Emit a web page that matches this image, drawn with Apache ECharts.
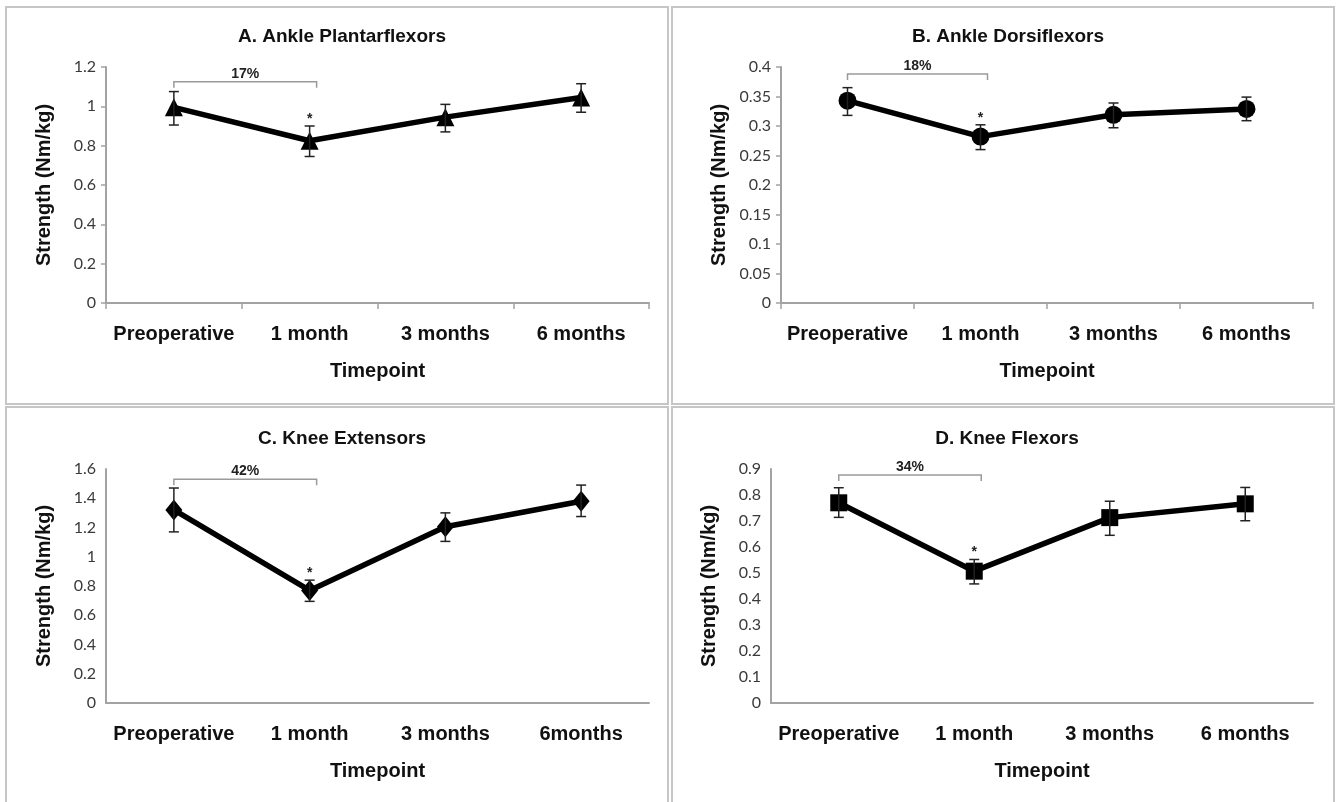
<!DOCTYPE html>
<html>
<head>
<meta charset="utf-8">
<script src="https://cdn.jsdelivr.net/npm/echarts@6/dist/echarts.min.js"></script>
<style>
  html, body { margin: 0; padding: 0; background: #fff; }
  #wrap { position: relative; width: 1340px; height: 802px; overflow: hidden; }
  .panel { position: absolute; border: 2px solid #c6c6c6; box-sizing: border-box; }
  #chart { position: absolute; left: 0; top: 0; width: 1340px; height: 802px; }
</style>
</head>
<body>
<div id="wrap">
  <div class="panel" style="left:5px;top:6px;width:664px;height:399px"></div>
  <div class="panel" style="left:671px;top:6px;width:664px;height:399px"></div>
  <div class="panel" style="left:5px;top:406px;width:664px;height:400px"></div>
  <div class="panel" style="left:671px;top:406px;width:664px;height:400px"></div>
  <div id="chart"></div>
</div>
<script>
// 横轴分组
const timepoints = ['Preoperative', '1 month', '3 months', '6 months'];
const timepointsKnee = ['Preoperative', '1 month', '3 months', '6months'];

// A. 踝跖屈肌
const plantarMean = [0.995, 0.825, 0.945, 1.045];
const plantarLow = [0.905, 0.745, 0.87, 0.97];
const plantarHigh = [1.075, 0.9, 1.01, 1.115];

// B. 踝背屈肌
const dorsiMean = [0.343, 0.282, 0.319, 0.329];
const dorsiLow = [0.318, 0.26, 0.297, 0.309];
const dorsiHigh = [0.365, 0.302, 0.339, 0.349];

// C. 膝伸肌
const extMean = [1.32, 0.77, 1.205, 1.38];
const extLow = [1.17, 0.695, 1.105, 1.275];
const extHigh = [1.47, 0.84, 1.3, 1.49];

// D. 膝屈肌
const flexMean = [0.77, 0.507, 0.713, 0.766];
const flexLow = [0.714, 0.458, 0.645, 0.701];
const flexHigh = [0.828, 0.552, 0.776, 0.829];

const sigMarks = ['', '*', '', ''];
const bracketLevels = [1.125, 0.388, 1.53, 0.877];
const bracketLabels = ['17%', '18%', '42%', '34%'];
const titles = ['A. Ankle Plantarflexors', 'B. Ankle Dorsiflexors', 'C. Knee Extensors', 'D. Knee Flexors'];

const myechart = echarts.init(document.getElementById('chart'));

const panels = [
  { cats: timepoints, mean: plantarMean, low: plantarLow, high: plantarHigh, max: 1.2, step: 0.2,
    symbol: 'triangle', size: 18, grid: { left: 106, top: 67, width: 543, height: 236 }, titleX: 337, titleY: 22, ticks: true },
  { cats: timepoints, mean: dorsiMean, low: dorsiLow, high: dorsiHigh, max: 0.4, step: 0.05,
    symbol: 'circle', size: 18, grid: { left: 781, top: 67, width: 532, height: 236 }, titleX: 1003, titleY: 22, ticks: true },
  { cats: timepointsKnee, mean: extMean, low: extLow, high: extHigh, max: 1.6, step: 0.2,
    symbol: 'diamond', size: [17, 21], grid: { left: 106, top: 469, width: 543, height: 234 }, titleX: 337, titleY: 424, ticks: false },
  { cats: timepoints, mean: flexMean, low: flexLow, high: flexHigh, max: 0.9, step: 0.1,
    symbol: 'rect', size: 17, grid: { left: 771, top: 469, width: 542, height: 234 }, titleX: 1002, titleY: 424, ticks: false }
];

const axisColor = '#a3a3a3';
const boldFont = '"Liberation Sans", Arial, sans-serif';

const option = {
  animation: false,
  title: [],
  grid: [],
  xAxis: [],
  yAxis: [],
  series: []
};

panels.forEach(function (p, i) {
  option.title.push({
    text: titles[i],
    left: p.titleX,
    top: p.titleY,
    textAlign: 'center',
    textStyle: { fontFamily: boldFont, fontWeight: 'bold', fontSize: 19, color: '#111' }
  });
  option.grid.push(Object.assign({ containLabel: false }, p.grid));
  option.xAxis.push({
    type: 'category',
    gridIndex: i,
    data: p.cats,
    boundaryGap: true,
    name: 'Timepoint',
    nameLocation: 'middle',
    nameGap: 58,
    nameTextStyle: { fontFamily: boldFont, fontWeight: 'bold', fontSize: 20, color: '#111' },
    axisLine: { lineStyle: { color: axisColor, width: 2 } },
    axisTick: { show: p.ticks, length: 6, lineStyle: { color: axisColor, width: 1.5 } },
    axisLabel: { interval: 0, margin: 21, fontFamily: boldFont, fontWeight: 'bold', fontSize: 20, color: '#111' }
  });
  option.yAxis.push({
    type: 'value',
    gridIndex: i,
    min: 0,
    max: p.max,
    interval: p.step,
    name: 'Strength (Nm/kg)',
    nameLocation: 'middle',
    nameGap: 52,
    nameTextStyle: { fontFamily: boldFont, fontWeight: 'bold', fontSize: 20, color: '#111' },
    splitLine: { show: false },
    axisLine: { show: true, lineStyle: { color: axisColor, width: 2 } },
    axisTick: { show: p.ticks, length: 5, lineStyle: { color: axisColor, width: 1.5 } },
    axisLabel: { margin: 10, fontFamily: 'Lato, sans-serif', fontSize: 16, color: '#3a3a3a' }
  });

  // 折线 + 标记
  option.series.push({
    type: 'line',
    xAxisIndex: i,
    yAxisIndex: i,
    data: p.mean,
    symbol: p.symbol,
    symbolSize: p.size,
    lineStyle: { color: '#000', width: 5.5 },
    itemStyle: { color: '#000' },
    z: 3
  });

  // 误差线
  option.series.push({
    type: 'custom',
    xAxisIndex: i,
    yAxisIndex: i,
    data: p.mean.map(function (v, k) { return [k, p.low[k], p.high[k]]; }),
    renderItem: function (params, api) {
      const k = api.value(0);
      const top = api.coord([k, api.value(2)]);
      const bot = api.coord([k, api.value(1)]);
      const w = 5;
      const st = { stroke: '#222', lineWidth: 1.5 };
      const children = [
        { type: 'line', shape: { x1: top[0], y1: top[1], x2: bot[0], y2: bot[1] }, style: st },
        { type: 'line', shape: { x1: top[0] - w, y1: top[1], x2: top[0] + w, y2: top[1] }, style: st },
        { type: 'line', shape: { x1: bot[0] - w, y1: bot[1], x2: bot[0] + w, y2: bot[1] }, style: st }
      ];
      if (sigMarks[k]) {
        children.push({
          type: 'text',
          style: { text: sigMarks[k], x: top[0], y: top[1] - 7, align: 'center', verticalAlign: 'middle',
            font: 'bold 14px ' + boldFont, fill: '#222' }
        });
      }
      return { type: 'group', children: children };
    },
    z: 4
  });

  // 百分比括号
  option.series.push({
    type: 'custom',
    xAxisIndex: i,
    yAxisIndex: i,
    data: [[0, 1, bracketLevels[i]]],
    renderItem: function (params, api) {
      const a = api.coord([api.value(0), api.value(2)]);
      const b = api.coord([api.value(1), api.value(2)]);
      const x2 = b[0] + 7;
      return {
        type: 'group',
        children: [
          { type: 'polyline', shape: { points: [[a[0], a[1] + 6], [a[0], a[1]], [x2, a[1]], [x2, a[1] + 6]] },
            style: { stroke: '#9a9a9a', lineWidth: 1.5, fill: null } },
          { type: 'text', style: { text: bracketLabels[i], x: (a[0] + x2) / 2, y: a[1] - 1, align: 'center',
            verticalAlign: 'bottom', font: 'bold 14px ' + boldFont, fill: '#222' } }
        ]
      };
    },
    z: 2
  });
});

myechart.setOption(option);
</script>
</body>
</html>
